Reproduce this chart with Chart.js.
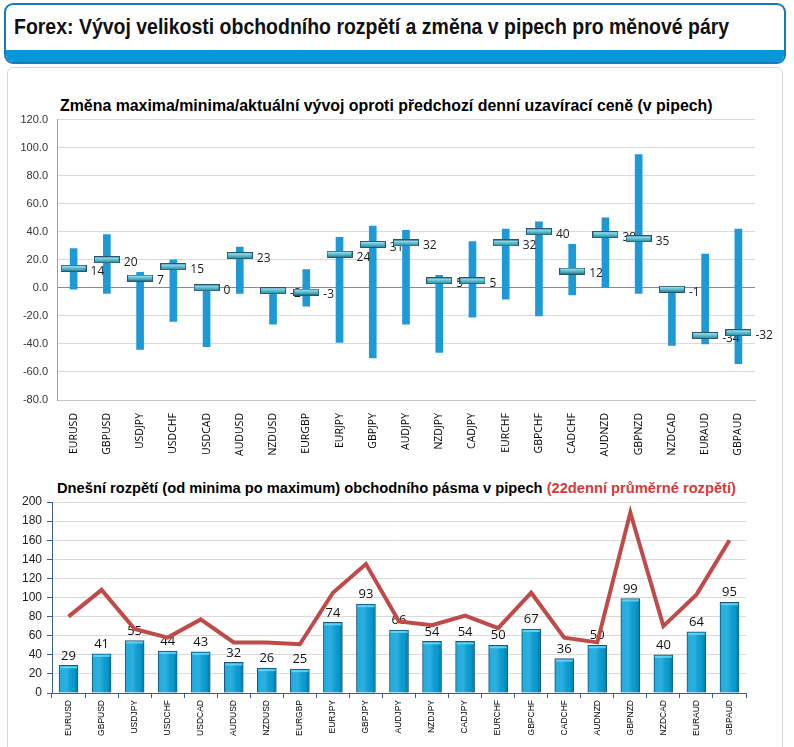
<!DOCTYPE html>
<html>
<head>
<meta charset="utf-8">
<script src="https://cdn.jsdelivr.net/npm/chart.js@4.4.1/dist/chart.umd.min.js"></script>
<style>
  body { margin: 0; width: 794px; height: 747px; background: #fff; position: relative; overflow: hidden; font-family: "Liberation Sans", Arial, sans-serif; }
  #header { position: absolute; left: 4px; top: 3px; width: 778px; height: 57px; border: 2px solid #1b78bd; border-radius: 9px; overflow: hidden; background: #fff; }
  #header .strip { position: absolute; left: 0; right: 0; bottom: 0; height: 12px; background: #0796d6; }
  #header h1 { margin: 0; position: absolute; left: 8px; top: 9px; font: bold 22px "Liberation Sans", Arial, sans-serif; color: #111; white-space: nowrap; transform: scaleX(0.885); transform-origin: 0 0; }
  #panel { position: absolute; left: 7px; top: 67px; width: 774px; height: 700px; border: 1px solid #d6d6d6; border-radius: 6px; }
  .ctitle { position: absolute; font-weight: bold; font-family: "Liberation Sans", Arial, sans-serif; color: #000; white-space: nowrap; }
  .ctitle span { color: #d43a3a; }
  canvas { position: absolute; left: 0; }
</style>
</head>
<body>
<div id="header"><h1>Forex: Vývoj velikosti obchodního rozpětí a změna v pipech pro měnové páry</h1><div class="strip"></div></div>
<div id="panel"></div>
<div class="ctitle" style="left:60px; top:97px; font-size:15.9px;">Změna maxima/minima/aktuální vývoj oproti předchozí denní uzavírací ceně (v pipech)</div>
<canvas id="chartZmena" width="794" height="356" style="top:104px"></canvas>
<div class="ctitle" style="left:57px; top:480px; font-size:14.7px;">Dnešní rozpětí (od minima po maximum) obchodního pásma v pipech <span>(22denní průměrné rozpětí)</span></div>
<canvas id="chartRozpeti" width="794" height="267" style="top:480px"></canvas>

<script>
// === Data ===
const pary = ["EURUSD", "GBPUSD", "USDJPY", "USDCHF", "USDCAD", "AUDUSD", "NZDUSD", "EURGBP", "EURJPY", "GBPJPY",
              "AUDJPY", "NZDJPY", "CADJPY", "EURCHF", "GBPCHF", "CADCHF", "AUDNZD", "GBPNZD", "NZDCAD", "EURAUD", "GBPAUD"];
const zmenaMax = [28, 38, 11, 20, 1, 29, 0, 13, 36, 44, 41, 9, 33, 42, 47, 31, 50, 95, 0, 24, 42];
const zmenaMin = [-1, -4, -44, -24, -42, -4, -26, -13, -39, -50, -26, -46, -21, -8, -20, -5, 0, -4, -41, -40, -54];
const zmenaAkt = [14, 20, 7, 15, 0, 23, -2, -3, 24, 31, 32, 5, 5, 32, 40, 12, 38, 35, -1, -34, -32];
const rozpetiDnes = [29, 41, 55, 44, 43, 32, 26, 25, 74, 93, 66, 54, 54, 50, 67, 36, 50, 99, 40, 64, 95];
const rozpeti22 = [80, 108, 67, 58, 77, 53, 53, 51, 105, 135, 75, 71, 81, 68, 105, 58, 53, 189, 70, 103, 160];
const zmenaTicks = { min: -80, max: 120, step: 20 };
const rozpetiTicks = { min: 0, max: 200, step: 20 };

// marker (vodorovná "tabulka" pro aktuální hodnotu)
const marker = document.createElement('canvas');
marker.width = 26; marker.height = 7;
{
    const m = marker.getContext('2d');
    const g = m.createLinearGradient(0, 0, 0, 7);
    g.addColorStop(0, '#c8f2fa');
    g.addColorStop(0.45, '#5fc4d8');
    g.addColorStop(1, '#1b7f9a');
    m.fillStyle = g;
    m.fillRect(0, 0, 26, 7);
    m.strokeStyle = '#2d5566';
    m.lineWidth = 1;
    m.strokeRect(0.5, 0.5, 25, 6);
}

// popisky aktuální hodnoty (kreslí se pod markery)
const popiskyZmena = {
    id: 'popiskyZmena',
    beforeDatasetDraw(chart, args) {
        if (args.index !== 0) return;
        const ctx = chart.ctx;
        const meta = chart.getDatasetMeta(0);
        ctx.save();
        ctx.font = '12px "Open Sans", sans-serif';
        ctx.fillStyle = '#222';
        ctx.textAlign = 'left';
        ctx.textBaseline = 'middle';
        meta.data.forEach((el, i) => {
            ctx.fillText(String(zmenaAkt[i]), el.x + 17, el.y + 3);
        });
        ctx.restore();
    }
};

// === Graf změny ===
new Chart(document.getElementById('chartZmena'), {
    type: 'bar',
    data: {
        labels: pary,
        datasets: [
            { type: 'line', label: 'Aktuální', data: zmenaAkt, showLine: false, pointStyle: marker, pointRadius: 12, order: 0 },
            { type: 'bar', label: 'Max/Min', data: pary.map((p, i) => [zmenaMin[i], zmenaMax[i]]), backgroundColor: '#1d9ad6', barThickness: 7, borderSkipped: false, order: 1 }
        ]
    },
    options: {
        responsive: false,
        animation: false,
        layout: { padding: { top: 4, right: 39, left: 0, bottom: 0 } },
        scales: {
            x: {
                grid: { display: false },
                border: { color: '#c4c4c4' },
                ticks: { maxRotation: 90, minRotation: 90, autoSkip: false, padding: 5, color: '#000', font: { family: '"Open Sans", sans-serif', size: 10.5 } },
                afterFit(s) { s.height = 60; }
            },
            y: {
                min: zmenaTicks.min, max: zmenaTicks.max,
                grid: { color: c => c.tick && c.tick.value === 0 ? '#8a8a8a' : '#dadada', drawTicks: false },
                border: { color: '#a0a0a0' },
                ticks: { stepSize: zmenaTicks.step, padding: 9, color: '#333', font: { family: '"Liberation Sans", Arial, sans-serif', size: 11 }, callback: v => v.toFixed(1) },
                afterFit(s) { s.width = 57; }
            }
        },
        plugins: { legend: { display: false }, tooltip: { enabled: false } }
    },
    plugins: [popiskyZmena]
});

// stínování sloupců + popisky
const sloupce3d = {
    id: 'sloupce3d',
    afterDatasetDraw(chart, args) {
        if (args.index !== 1) return;
        const ctx = chart.ctx;
        const meta = chart.getDatasetMeta(1);
        ctx.save();
        meta.data.forEach((el, i) => {
            const l = el.x - el.width / 2, r = el.x + el.width / 2;
            const g = ctx.createLinearGradient(l, 0, r, 0);
            g.addColorStop(0, 'rgba(255,255,255,0.10)');
            g.addColorStop(0.4, 'rgba(255,255,255,0.15)');
            g.addColorStop(0.8, 'rgba(0,0,0,0.05)');
            g.addColorStop(1, 'rgba(0,30,60,0.35)');
            ctx.fillStyle = g;
            ctx.fillRect(l + 1, el.y + 1, el.width - 2, el.base - el.y - 1);
            ctx.fillStyle = 'rgba(110,220,250,0.8)';
            ctx.fillRect(l + 1, el.y + 1, el.width - 2, 2);
        });
        ctx.font = '13px "Open Sans", sans-serif';
        ctx.fillStyle = '#111';
        ctx.textAlign = 'center';
        ctx.textBaseline = 'bottom';
        meta.data.forEach((el, i) => {
            ctx.fillText(String(rozpetiDnes[i]), el.x, el.y - 3);
        });
        ctx.restore();
    }
};

// === Graf rozpětí ===
new Chart(document.getElementById('chartRozpeti'), {
    type: 'bar',
    data: {
        labels: pary,
        datasets: [
            { type: 'line', label: '22denní průměr', data: rozpeti22, borderColor: '#bf4a47', borderWidth: 4, pointRadius: 0, tension: 0, order: 0 },
            { type: 'bar', label: 'Dnes', data: rozpetiDnes, backgroundColor: '#08a2da', borderColor: '#1d5674', borderWidth: 1, borderSkipped: 'bottom', barThickness: 19, order: 1 }
        ]
    },
    options: {
        responsive: false,
        animation: false,
        layout: { padding: { top: 22, right: 48, left: 0, bottom: 0 } },
        scales: {
            x: {
                grid: { display: true, drawOnChartArea: false, tickLength: 5, color: '#3a5f8c' },
                border: { color: '#3a5f8c' },
                ticks: { maxRotation: 90, minRotation: 90, autoSkip: false, padding: 2, color: '#000', font: { family: 'Arial, "Liberation Sans", sans-serif', size: 8.5 } },
                afterFit(s) { s.height = 54; }
            },
            y: {
                min: rozpetiTicks.min, max: rozpetiTicks.max,
                grid: { color: '#d9d9d9', tickColor: '#3a5f8c', tickLength: 5 },
                border: { color: '#3a5f8c' },
                ticks: { stepSize: rozpetiTicks.step, padding: 5, color: '#222', font: { family: '"Liberation Sans", Arial, sans-serif', size: 12 } },
                afterFit(s) { s.width = 52; }
            }
        },
        plugins: { legend: { display: false }, tooltip: { enabled: false } }
    },
    plugins: [sloupce3d]
});
</script>
</body>
</html>
